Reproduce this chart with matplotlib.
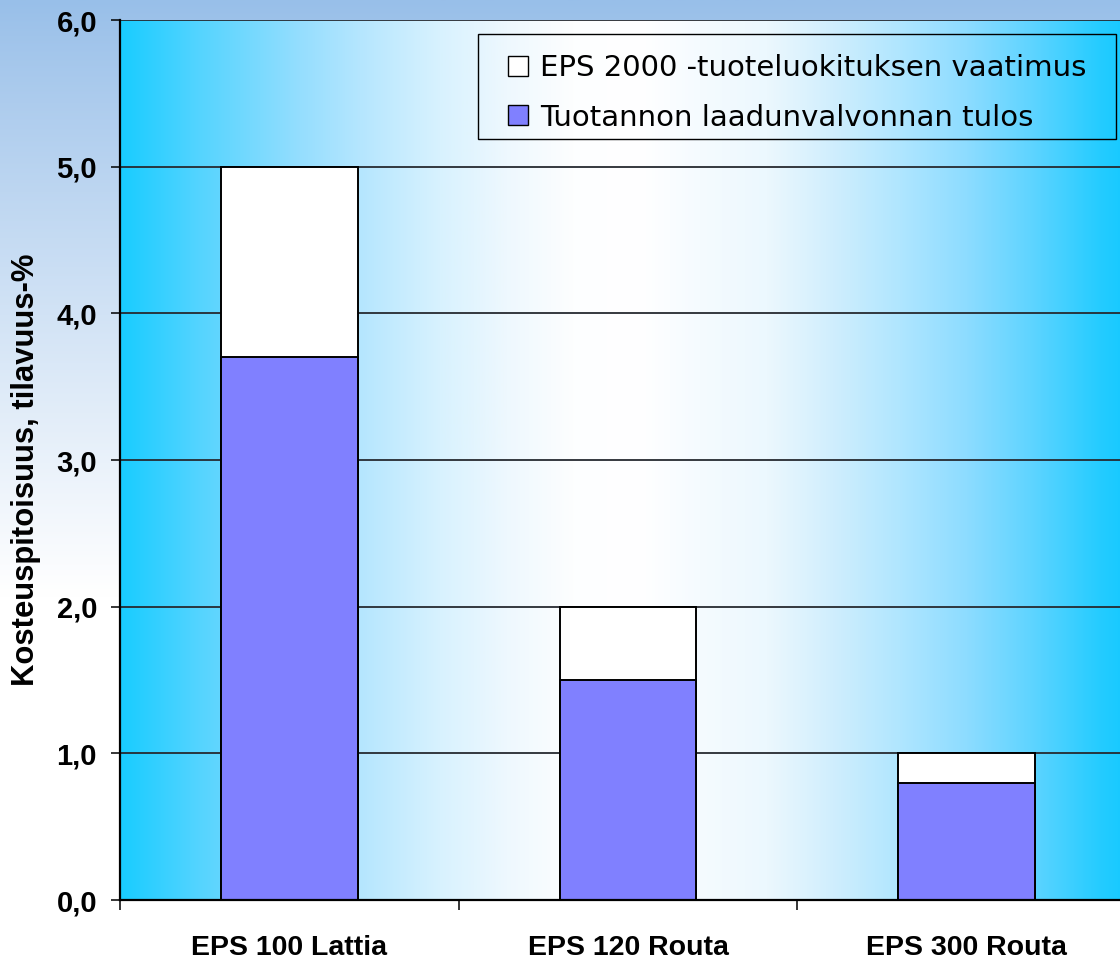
import numpy as np
import matplotlib
matplotlib.use("Agg")
import matplotlib.pyplot as plt
from matplotlib.patches import Patch, Rectangle
from matplotlib.colors import to_rgb

# ---- data ----
categories = ["EPS 100 Lattia", "EPS 120 Routa", "EPS 300 Routa"]
requirement = [5.0, 2.0, 1.0]      # EPS 2000 -tuoteluokituksen vaatimus
result = [3.7, 1.5, 0.8]           # Tuotannon laadunvalvonnan tulos
yticks = [0.0, 1.0, 2.0, 3.0, 4.0, 5.0, 6.0]
ytick_labels = ["0,0", "1,0", "2,0", "3,0", "4,0", "5,0", "6,0"]
legend_labels = ["EPS 2000 -tuoteluokituksen vaatimus", "Tuotannon laadunvalvonnan tulos"]
ylabel = "Kosteuspitoisuus, tilavuus-%"

W, H = 1120, 961
fig = plt.figure(figsize=(W / 100, H / 100), dpi=100)

# figure background: vertical gradient light blue -> white
bg = fig.add_axes([0, 0, 1, 1], zorder=-5)
ys = np.linspace(0, 1, 400)  # 0 = top
top_c = np.array(to_rgb("#98bfe9"))
white = np.array([1.0, 1.0, 1.0])
t = np.clip(ys / 0.62, 0, 1) ** 0.9
col = top_c[None, :] * (1 - t[:, None]) + white[None, :] * t[:, None]
bg.imshow(col[:, None, :], aspect="auto", extent=(0, 1, 0, 1), origin="upper")
bg.set_xlim(0, 1)
bg.set_ylim(0, 1)
bg.set_axis_off()

# main axes (right part extends past the image edge)
left_px, right_px, top_px, bot_px = 120, 1136, 20, 900
ax = fig.add_axes([left_px / W, 1 - bot_px / H, (right_px - left_px) / W, (bot_px - top_px) / H], zorder=1)
ax.patch.set_visible(False)
ax.set_xlim(-0.5, 2.5)
ax.set_ylim(0, 6)

# plot-area horizontal gradient (cyan edges, white centre)
ctrl_px = [120, 200, 300, 360, 440, 507, 573, 640, 700, 767, 833, 900, 967, 1033, 1100, 1136]
ctrl_col = ["#18ccff", "#55d4ff", "#95defe", "#b5e6ff", "#d8f2fe", "#eef8fe", "#fdfeff",
            "#ffffff", "#f5fbff", "#ecf8fe", "#d0eefd", "#b0e6ff", "#8ddcff", "#5ed4ff",
            "#25ccff", "#10c8ff"]
xs = np.linspace(left_px, right_px, 1000)
cc = np.array([to_rgb(c) for c in ctrl_col])
grad = np.stack([np.interp(xs, ctrl_px, cc[:, k]) for k in range(3)], axis=-1)
ax.imshow(grad[None, :, :], aspect="auto", extent=(-0.5, 2.5, 0, 6), zorder=0, origin="lower")

# gridlines
ax.set_yticks(yticks)
ax.set_yticklabels(ytick_labels)
for yv in yticks[1:]:
    ax.axhline(yv, color="#262a30", linewidth=1.3, zorder=1)

x = np.arange(len(categories))
bw = 0.404
ax.bar(x, requirement, width=bw, color="white", edgecolor="black", linewidth=1.4, zorder=3)
ax.bar(x, result, width=bw, color="#8080ff", edgecolor="black", linewidth=1.4, zorder=4)

# axes styling
for s in ["top", "right"]:
    ax.spines[s].set_visible(False)
ax.spines["left"].set_linewidth(1.6)
ax.spines["bottom"].set_linewidth(1.6)
ax.spines["left"].set_zorder(5)
ax.spines["bottom"].set_zorder(5)

ax.tick_params(axis="y", direction="out", length=6.5, width=1.1, pad=10,
               labelsize=21)
for lab in ax.get_yticklabels():
    lab.set_fontfamily("Liberation Sans")
    lab.set_fontweight("bold")

ax.set_xticks(x)
ax.set_xticklabels(categories)
ax.set_xticks([-0.5, 0.5, 1.5, 2.5], minor=True)
ax.tick_params(axis="x", which="major", length=0, pad=25, labelsize=20.5)
ax.tick_params(axis="x", which="minor", direction="out", length=7, width=1.1)
for lab in ax.get_xticklabels():
    lab.set_fontfamily("Liberation Sans")
    lab.set_fontweight("bold")

fig.text(26 / W, 1 - 470 / H, ylabel, rotation=90, ha="center", va="center",
         fontsize=22.3, fontweight="bold", family="Liberation Sans")

# legend frame drawn separately so its padding matches the reference
fig.patches.append(Rectangle((478 / W, 1 - 139 / H), (1116 - 478) / W, (139 - 34) / H,
                             transform=fig.transFigure, facecolor="none",
                             edgecolor="black", linewidth=1.0, zorder=6))

handles = [Patch(facecolor="white", edgecolor="black", linewidth=1.0),
           Patch(facecolor="#8080ff", edgecolor="black", linewidth=1.0)]
leg = ax.legend(handles, legend_labels, loc="upper left",
                bbox_to_anchor=(508 / W, 1 - 54 / H), bbox_transform=fig.transFigure,
                borderaxespad=0, frameon=False,
                prop={"family": "DejaVu Sans", "size": 21},
                handlelength=0.68, handleheight=0.68, handletextpad=0.42,
                labelspacing=0.74, borderpad=0.0)
leg.set_zorder(6)

fig.savefig("out.png", dpi=100)
